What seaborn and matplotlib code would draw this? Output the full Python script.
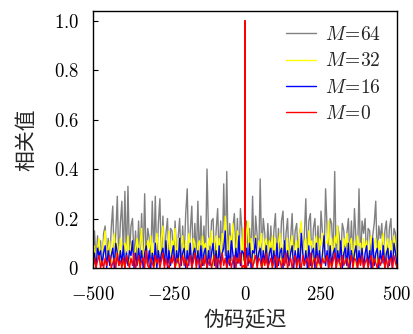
import numpy as np
import pandas as pd
import matplotlib
matplotlib.use('Agg')
import matplotlib.pyplot as plt
import seaborn as sns

# code delay (chips): step 5, plus -1 and 1 beside the main peak
delay = np.sort(np.r_[np.arange(-500, 501, 5), -1, 1])

# correlation values in hundredths
m64 = [3, 15, 2, 13, 4, 11, 1, 14, 17, 3,
       12, 2, 16, 25, 3, 14, 29, 2, 18, 27,
       4, 31, 2, 33, 5, 17, 20, 3, 15, 2,
       19, 4, 22, 3, 30, 2, 16, 12, 3, 27,
       5, 29, 2, 18, 28, 3, 21, 4, 14, 20,
       2, 16, 15, 3, 19, 5, 12, 20, 2, 17,
       4, 22, 32, 3, 15, 25, 2, 18, 4, 27,
       3, 21, 5, 17, 2, 40, 14, 3, 19, 20,
       2, 15, 24, 4, 19, 3, 34, 5, 39, 2,
       18, 3, 16, 22, 4, 20, 2, 24, 15, 3, 6,
       12, 9, 19, 3, 16, 4, 29, 2, 21, 13, 3,
       36, 4, 20, 14, 2, 18, 5, 17, 3, 15,
       22, 2, 16, 4, 19, 23, 3, 14, 20, 2,
       12, 22, 4, 15, 18, 3, 15, 17, 2, 13,
       28, 3, 19, 22, 2, 16, 20, 4, 17, 3,
       23, 14, 2, 32, 16, 3, 20, 18, 4, 39,
       2, 17, 13, 3, 18, 15, 2, 14, 20, 4,
       19, 3, 24, 12, 4, 32, 2, 19, 14, 20,
       3, 16, 15, 2, 13, 18, 27, 3, 17, 12,
       18, 2, 15, 19, 4, 16, 20, 3, 16, 14,
       3]
m32 = [2, 9, 1, 8, 12, 2, 7, 10, 15, 1,
       8, 11, 2, 9, 14, 1, 10, 3, 12, 8,
       1, 10, 7, 13, 2, 9, 11, 1, 8, 12,
       2, 10, 16, 1, 9, 3, 11, 8, 13, 2,
       10, 1, 14, 9, 2, 12, 17, 1, 10, 8,
       15, 2, 11, 9, 16, 1, 12, 3, 10, 13,
       1, 11, 2, 14, 9, 1, 12, 10, 2, 9,
       11, 1, 13, 8, 10, 2, 12, 9, 15, 1,
       10, 13, 2, 12, 1, 14, 9, 21, 10, 2,
       13, 9, 18, 11, 1, 15, 10, 12, 2, 16, 4,
       11, 7, 14, 19, 2, 12, 1, 10, 13, 2, 11,
       9, 14, 1, 10, 12, 2, 11, 8, 13, 1,
       12, 2, 10, 14, 1, 9, 11, 3, 12, 1,
       10, 13, 2, 9, 11, 1, 14, 19, 2, 10,
       12, 1, 15, 9, 11, 2, 10, 13, 1, 12,
       9, 14, 2, 11, 10, 19, 1, 12, 3, 13,
       10, 17, 1, 11, 2, 12, 9, 14, 1, 10,
       12, 2, 11, 1, 13, 9, 10, 2, 12, 8,
       11, 1, 9, 13, 2, 10, 12, 1, 11, 7,
       10, 14, 2, 9, 12, 1, 11, 3, 13, 9,
       2]
m16 = [1, 6, 0, 8, 5, 7, 1, 6, 9, 0,
       7, 1, 5, 8, 0, 10, 6, 1, 7, 2,
       9, 0, 6, 1, 7, 5, 11, 0, 6, 1,
       8, 2, 7, 0, 6, 9, 1, 7, 0, 6,
       1, 10, 0, 7, 2, 6, 8, 1, 11, 0,
       7, 1, 6, 9, 0, 7, 2, 12, 1, 6,
       8, 0, 7, 1, 10, 0, 6, 8, 1, 7,
       0, 9, 1, 6, 8, 0, 7, 1, 6, 10,
       1, 7, 0, 9, 2, 6, 8, 15, 0, 7,
       1, 11, 6, 0, 8, 2, 13, 1, 7, 6, 3,
       0, 2, 8, 1, 10, 0, 7, 6, 12, 1, 6,
       8, 0, 7, 2, 9, 0, 6, 8, 1, 7,
       0, 10, 1, 6, 8, 0, 11, 2, 7, 1,
       6, 9, 0, 7, 1, 8, 0, 14, 6, 1,
       7, 0, 9, 1, 6, 8, 0, 10, 2, 7,
       0, 6, 13, 1, 7, 0, 9, 1, 6, 8,
       0, 7, 2, 11, 0, 6, 8, 1, 10, 0,
       7, 1, 6, 9, 0, 7, 2, 8, 0, 6,
       9, 1, 7, 0, 12, 1, 6, 8, 0, 7,
       2, 9, 0, 6, 8, 1, 7, 0, 10, 6,
       1]
m0 = [0, 4, 0, 3, 5, 0, 3, 0, 4, 1,
      3, 5, 0, 2, 4, 0, 6, 1, 3, 0,
      4, 0, 5, 3, 0, 4, 1, 6, 0, 2,
      5, 0, 3, 4, 0, 7, 1, 0, 4, 2,
      0, 5, 2, 4, 0, 3, 6, 0, 4, 1,
      0, 4, 2, 5, 0, 3, 4, 0, 3, 5,
      1, 4, 0, 3, 5, 0, 3, 6, 0, 4,
      2, 0, 4, 1, 5, 0, 2, 4, 0, 3,
      5, 0, 4, 3, 0, 6, 1, 4, 0, 2,
      4, 0, 3, 5, 0, 4, 2, 6, 0, 1, 0,
      100, 0, 0, 5, 2, 4, 0, 3, 5, 0, 4,
      3, 0, 4, 1, 6, 0, 2, 4, 0, 3,
      5, 0, 4, 3, 0, 4, 1, 6, 0, 2,
      4, 0, 3, 5, 0, 4, 2, 0, 5, 1,
      3, 4, 0, 6, 0, 3, 4, 0, 5, 2,
      0, 4, 2, 3, 5, 0, 4, 0, 3, 6,
      0, 4, 3, 0, 5, 1, 3, 4, 0, 3,
      5, 0, 4, 3, 0, 4, 1, 5, 0, 2,
      4, 0, 3, 5, 0, 4, 2, 0, 4, 1,
      3, 5, 0, 4, 0, 3, 4, 0, 5, 2,
      0]

labels = [r'$M\!=\!64$', r'$M\!=\!32$', r'$M\!=\!16$', r'$M\!=\!0$']
colors = ['#808080', '#ffff00', '#0000ff', '#ff0000']
xticks = [-500, -250, 0, 250, 500]
yticks = [0, 0.2, 0.4, 0.6, 0.8, 1.0]

df = pd.concat([
    pd.DataFrame({'delay': delay, 'corr': np.array(v) / 100, 'M': lab})
    for v, lab in zip([m64, m32, m16, m0], labels)
])

sns.set_style('white')
plt.rcParams['mathtext.fontset'] = 'cm'
plt.rcParams['font.family'] = ['DejaVu Serif']

fig = plt.figure(figsize=(4.14, 3.34), dpi=100)
ax = fig.add_axes([0.2246, 0.1976, 0.7344, 0.7704])

sns.lineplot(data=df, x='delay', y='corr', hue='M', hue_order=labels,
             palette=colors, estimator=None, sort=False, linewidth=1.0, ax=ax)

ax.set_xlim(-500, 500)
ax.set_ylim(0, 1.04)
ax.set_xticks(xticks)
ax.set_xticklabels([f'${t}$' for t in xticks], fontsize=13.5)
ax.set_yticks(yticks)
ax.set_yticklabels(['$0$'] + [f'${t:.1f}$' for t in yticks[1:]], fontsize=13.5)
ax.tick_params(direction='in', length=3.5, width=0.8, colors='black',
               bottom=True, left=True, top=False, right=False)
ax.tick_params(axis='x', pad=13)
ax.tick_params(axis='y', pad=10)
for s in ax.spines.values():
    s.set_color('black')
    s.set_linewidth(1.0)

cjk = ['Noto Sans CJK SC', 'DejaVu Sans']
ax.set_xlabel('伪码延迟', family=cjk, fontsize=15, labelpad=4)
ax.set_ylabel('相关值', family=cjk, fontsize=15, labelpad=12)

ax.legend(frameon=False, loc='upper right', fontsize=14, handlelength=1.55,
          labelspacing=0.42, handletextpad=0.5, borderaxespad=0.4)

fig.savefig('out.png', dpi=100)
